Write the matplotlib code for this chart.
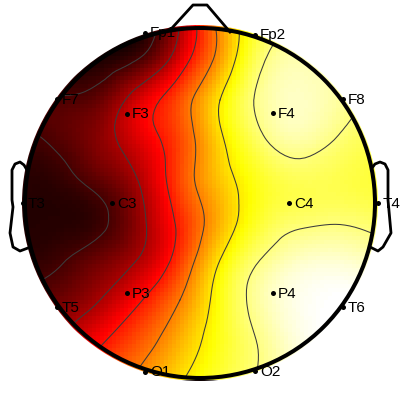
import numpy as np
import matplotlib
matplotlib.use("Agg")
import matplotlib.pyplot as plt
import matplotlib.tri as mtri
from matplotlib.patches import Circle

plt.rcParams['font.family'] = ['Liberation Sans', 'DejaVu Sans']

# Scalp values at regular sample nodes (0 = black, 1 = white)
grid_x = [20, 60, 100, 140, 180, 220, 260, 300, 340, 380]
grid_y = [20, 60, 100, 140, 180, 220, 260, 300, 340, 380]
scalp_values = [
    [0.00, 0.00, 0.00, 0.03, 0.24, 0.60, 0.80, 0.88, 0.88, 0.88],
    [0.00, 0.00, 0.03, 0.10, 0.32, 0.60, 0.85, 0.92, 0.90, 0.88],
    [0.10, 0.10, 0.14, 0.31, 0.48, 0.71, 0.89, 0.94, 0.90, 0.85],
    [0.07, 0.11, 0.19, 0.32, 0.47, 0.69, 0.85, 0.91, 0.86, 0.82],
    [0.05, 0.06, 0.13, 0.25, 0.47, 0.66, 0.78, 0.83, 0.82, 0.80],
    [0.04, 0.04, 0.07, 0.21, 0.42, 0.63, 0.79, 0.85, 0.86, 0.84],
    [0.05, 0.08, 0.15, 0.25, 0.45, 0.71, 0.87, 0.94, 0.95, 0.92],
    [0.10, 0.15, 0.24, 0.38, 0.55, 0.76, 0.91, 0.98, 1.00, 1.00],
    [0.18, 0.25, 0.37, 0.49, 0.63, 0.77, 0.88, 0.97, 1.00, 1.00],
    [0.25, 0.33, 0.45, 0.58, 0.70, 0.80, 0.88, 0.96, 1.00, 1.00],
]
contour_levels = [0.09, 0.24, 0.39, 0.55, 0.71, 0.87]

electrode_names = ['Fp1', 'Fp2', 'F7', 'F3', 'F4', 'F8', 'T3', 'C3', 'C4', 'T4',
                   'T5', 'P3', 'P4', 'T6', 'O1', 'O2']
electrode_x = [145, 255, 57, 127, 273, 343, 23, 112, 289, 378, 57, 127, 273, 343, 145, 255]
electrode_y = [33, 35, 99, 114, 113, 99, 203, 203, 203, 203, 307, 293, 293, 307, 372, 371]

nose_x = [172, 193, 207, 230]
nose_y = [28, 5, 5, 32]
left_ear_x = [27, 24, 20, 15, 12, 12, 13, 10, 13, 20, 28]
left_ear_y = [170, 165, 162, 164, 170, 200, 207, 233, 247, 251, 248]
right_ear_x = [372, 375, 380, 385, 388, 388, 391, 383, 378, 370]
right_ear_y = [168, 164, 162, 164, 170, 200, 233, 247, 251, 247]

fig = plt.figure(figsize=(4, 4), dpi=100)
ax = fig.add_axes([0, 0, 1, 1])
ax.set_xlim(0, 400)
ax.set_ylim(400, 0)
ax.axis('off')

gx, gy = np.meshgrid(grid_x, grid_y)
tri = mtri.Triangulation(gx.ravel().astype(float), gy.ravel().astype(float))
z = np.array(scalp_values).ravel()
interp = mtri.CubicTriInterpolator(tri, z, kind='min_E')

# cell-wise colour raster (the reference shows ~4 px cells)
edges = np.arange(20, 385, 4.0)
cx, cy = np.meshgrid((edges[:-1] + edges[1:]) / 2, (edges[:-1] + edges[1:]) / 2)
cz = np.ma.filled(interp(cx, cy), 0.0)
clip_disc = Circle((200, 203), 178, transform=ax.transData)
mesh = ax.pcolormesh(edges, edges, cz, cmap='hot', vmin=0, vmax=1, zorder=1)
mesh.set_clip_path(clip_disc)

refiner = mtri.UniformTriRefiner(tri)
tri_f, z_f = refiner.refine_field(z, triinterpolator=interp, subdiv=3)
cs = ax.tricontour(tri_f, z_f, levels=contour_levels, colors='#3c3c3c',
                   linewidths=0.75, zorder=2)
cs.set_clip_path(Circle((200, 203), 175, transform=ax.transData))

ax.plot(electrode_x, electrode_y, 'o', color='black', ms=3.6, mew=0, zorder=3, clip_on=False)
for n, x, y in zip(electrode_names, electrode_x, electrode_y):
    ax.text(x + 5, y + 0.5, n, fontsize=11, color='black', ha='left', va='center', zorder=3)

ax.add_patch(Circle((200, 203), 175, fill=False, ec='black', lw=2.9, zorder=4))
for xs, ys in [(nose_x, nose_y), (left_ear_x, left_ear_y), (right_ear_x, right_ear_y)]:
    ax.plot(xs, ys, color='black', lw=2.0, zorder=4, solid_joinstyle='round')

fig.savefig('out.png', dpi=100)
